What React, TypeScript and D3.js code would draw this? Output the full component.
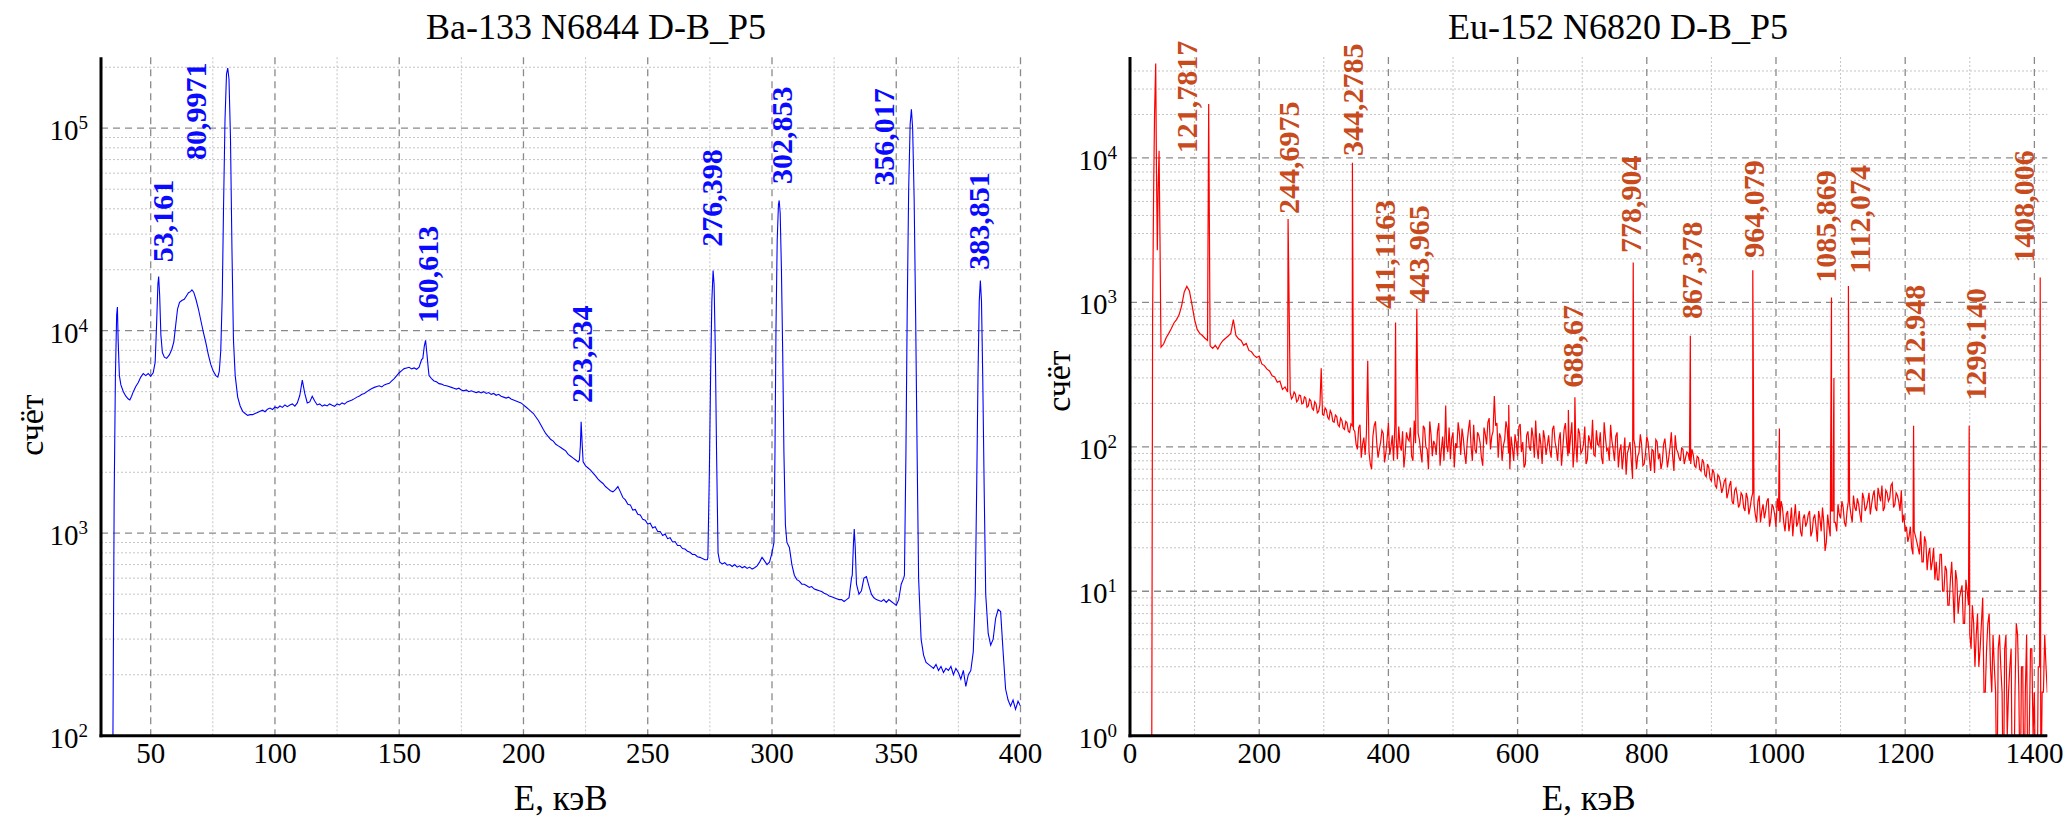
import React from 'react';
import * as d3 from 'd3';

type Pt = [number, number];

// ---------------- Ba-133 panel data ----------------
const baTitle = 'Ba-133 N6844 D-B_P5';
const baXDomain: Pt = [30, 400];
const baYDomain: Pt = [100, 224000];
const baXTicks = [50, 100, 150, 200, 250, 300, 350, 400];
const baXMinor = [75, 125, 175, 225, 275, 325, 375];

// low-energy part of the Ba spectrum (keV, counts)
const baLow: Pt[] = [
  [34.0, 40], [34.8, 100], [35.3, 1500], [35.8, 6000], [36.3, 12000], [36.6, 13100], [36.9, 9000], [37.4, 6000],
  [38.0, 5400], [39.0, 5000], [40.0, 4750], [41.0, 4600], [41.6, 4550], [42.3, 4750], [43.0, 5000], [44.0, 5300],
  [45.0, 5550], [46.0, 5900], [47.0, 6150], [48.0, 6000], [49.0, 6150], [50.0, 5950], [51.0, 6200], [51.8, 7000],
  [52.4, 11000], [52.9, 17000], [53.2, 18500], [53.6, 15000], [54.1, 9500], [54.7, 7800], [55.5, 7400], [56.4, 7300],
  [57.5, 7600], [58.5, 8100], [59.3, 8800], [60.0, 10500], [60.8, 12800], [61.6, 13800], [62.5, 14100], [63.5, 14300],
  [64.3, 14800], [65.2, 15400], [66.0, 15600], [66.6, 15900], [67.3, 15500], [68.2, 14300], [69.2, 12800], [70.2, 11200],
  [71.2, 9800], [72.2, 8700], [73.2, 7600], [74.2, 6800], [75.2, 6300], [76.2, 6000], [77.0, 5900], [77.6, 6300],
  [78.2, 8000], [78.8, 15000], [79.3, 40000], [79.9, 110000], [80.5, 185000], [81.0, 198000], [81.5, 175000],
  [82.1, 90000], [82.7, 25000], [83.3, 9000], [84.0, 6000], [85.0, 4700], [86.0, 4250], [87.0, 4000], [88.0, 3900],
  [89.0, 3820], [90.0, 3850],
];

// continuum, 1 keV channels from 91 keV
const baContStart = 91;
const baContStep = 1;
const baCont = [
  3850, 3900, 3950, 4000, 4050, 3980, 4100, 4150, 4080, 4200,
  4150, 4250, 4180, 4300, 4220, 4300, 4350, 4240, 4400, 4800,
  5700, 4900, 4400, 4450, 4750, 4500, 4300, 4350, 4240, 4300,
  4250, 4350, 4280, 4230, 4350, 4300, 4400, 4340, 4450, 4500,
  4550, 4620, 4700, 4760, 4850, 4900, 5000, 5100, 5180, 5250,
  5300, 5350, 5280, 5400, 5450, 5500, 5650, 5800, 6000, 6200,
  6350, 6500, 6550, 6600, 6480, 6550, 6450, 6600, 7200, 8400,
  7000, 6000, 5800, 5650, 5600, 5480, 5450, 5380, 5350, 5300,
  5250, 5200, 5150, 5200, 5100, 5050, 5100, 5000, 5050, 5000,
  4950, 5000, 4930, 5000, 4900, 4950, 4850, 4900, 4800, 4850,
  4750, 4700, 4650, 4700, 4600, 4550, 4500, 4450, 4400, 4300,
  4200, 4100, 4000, 3900, 3750, 3600, 3420, 3250, 3100, 3000,
  2900, 2850, 2750, 2700, 2650, 2600, 2550, 2450, 2400, 2350,
  2300, 2250, 2280, 2250, 2150, 2100, 2050, 1980, 1920, 1850,
  1800, 1760, 1700, 1660, 1620, 1600, 1640, 1700, 1600, 1500,
  1460, 1390, 1380, 1300, 1310, 1240, 1230, 1170, 1160, 1110,
  1120, 1060, 1075, 1020, 1020, 975, 990, 940, 950, 905,
  910, 870, 870, 840, 835, 815, 805, 785, 785, 765,
  760, 750, 740, 740, 750, 760, 750, 730, 720, 705,
  715, 695, 700, 685, 700, 680, 690, 675, 685, 670,
  680, 665, 675, 690, 720, 760, 730, 700, 720, 800,
  1000, 1200, 1200, 1100, 1000, 900, 850, 700, 620, 590,
  580, 560, 560, 550, 540, 545, 530, 525, 520, 515,
  505, 500, 490, 485, 480, 475, 470, 470, 460, 470,
  480, 600, 700, 560, 500, 520, 600, 610, 550, 500,
  480, 470, 465, 460, 470, 455, 470, 460, 450, 440,
  470, 560, 600, 900, 900, 900, 900, 900, 500, 300,
  250, 230, 225, 220, 215, 225, 210, 220, 205, 215,
  210, 220, 200, 215, 205, 190, 210, 175, 200, 210,
  260, 600, 600, 600, 600, 600, 320, 280, 300, 380,
  420, 410, 260, 170, 150, 140, 150, 135, 148, 140,
];

// resolved peak shapes (keV, counts)
const baPeaks: Pt[][] = [
  [[159.5, 7300], [160.1, 8400], [160.6, 8970], [161.1, 7800], [161.7, 6500]],
  [[222.5, 2300], [222.9, 2700], [223.2, 3550], [223.6, 2800], [224.0, 2250]],
  [[274.2, 760], [274.8, 2000], [275.3, 6000], [275.8, 14000], [276.3, 19800], [276.7, 17000], [277.2, 8000], [277.7, 2500], [278.3, 800]],
  [[300.8, 900], [301.2, 2500], [301.6, 10000], [302.1, 28000], [302.6, 42000], [302.9, 44000], [303.3, 38000], [303.8, 20000], [304.3, 8000], [304.8, 2500], [305.4, 1100]],
  [[332.3, 620], [332.8, 900], [333.1, 1050], [333.5, 850], [334.0, 560]],
  [[353.3, 620], [353.9, 2500], [354.4, 12000], [355.0, 50000], [355.6, 105000], [356.1, 124000], [356.6, 100000], [357.2, 45000], [357.8, 12000], [358.4, 2500], [359.0, 600]],
  [[381.8, 500], [382.4, 1800], [382.9, 6000], [383.4, 14000], [383.85, 17700], [384.3, 14000], [384.8, 6000], [385.4, 1600], [386.0, 500]],
];

const baLabelText = ['53,161', '80,9971', '160,613', '223,234', '276,398', '302,853', '356,017', '383,851'];
const baLabelE = [54.8, 68.2, 161.3, 223.5, 275.7, 303.9, 345.0, 383.1];
const baLabelCount = [21800, 69700, 10900, 4400, 26000, 53000, 52000, 20000];

// ---------------- Eu-152 panel data ----------------
const euTitle = 'Eu-152 N6820 D-B_P5';
const euXDomain: Pt = [0, 1420];
const euYDomain: Pt = [1, 50000];
const euXTicks = [0, 200, 400, 600, 800, 1000, 1200, 1400];
const euXMinor = [100, 300, 500, 700, 900, 1100, 1300];

const euLow: Pt[] = [
  [33.5, 0], [35.0, 800], [36.5, 5500], [38.0, 20000], [39.8, 45000], [41.0, 8000], [42.3, 2300],
  [43.5, 6000], [45.0, 11200], [46.5, 2500], [47.5, 800],
];

// continuum, 4 keV bins from 48 keV
const euContStart = 48;
const euContStep = 4;
const euCont = [
  490, 515, 570, 610, 660, 720, 760, 820, 950, 1180, 1290, 1200, 960, 760, 650, 610, 590, 565, 545, 500, 480, 505, 475, 515, 545,
  565, 585, 610, 600, 590, 560, 545, 505, 520, 465, 455, 430, 415, 425, 375, 365, 345, 335, 310, 305, 280, 285, 250, 260, 240,
  238, 222, 232, 210, 226, 200, 218, 192, 208, 180, 198, 176, 188, 165, 180, 155, 170, 148, 162, 138, 152, 132, 146, 126, 140,
  128, 96, 142, 104, 88, 132, 76, 118, 150, 84, 108, 124, 90, 146, 100, 80, 116, 138, 94, 72, 126, 110, 86, 152, 98,
  112, 78, 134, 96, 150, 86, 104, 128, 74, 118, 140, 92, 82, 126, 106, 148, 88, 114, 76, 132, 100, 142, 90, 120, 84,
  136, 104, 158, 118, 92, 146, 124, 80, 112, 134, 70, 98, 122, 86, 144, 108, 76, 128, 94, 116, 152, 82, 104, 130, 88,
  120, 84, 140, 96, 112, 74, 132, 106, 90, 148, 100, 78, 124, 94, 138, 82, 110, 154, 86, 104, 126, 76, 116, 98, 142,
  96, 118, 72, 104, 88, 64, 98, 80, 112, 70, 92, 104, 76, 118, 84, 96, 66, 108, 90, 78, 114, 72, 100, 86, 120,
  92, 80, 96, 84, 90, 76, 88, 72, 84, 68, 78, 62, 72, 58, 66, 52, 62, 48, 58, 44, 54, 42, 50, 46, 40,
  46, 36, 44, 38, 48, 34, 42, 30, 40, 36, 44, 32, 38, 28, 36, 42, 30, 34, 26, 38, 32, 28, 36, 24, 34,
  30, 36, 26, 34, 22, 32, 38, 19, 34, 24, 36, 30, 40, 32, 38, 28, 42, 34, 46, 36, 40, 30, 44, 38, 48,
  40, 50, 36, 46, 54, 38, 48, 44, 56, 40, 46, 36, 30, 26, 22, 28, 18, 24, 20, 26, 16, 22, 18, 14, 20,
  16, 12, 18, 10, 14, 8, 16, 6, 12, 9, 11, 6, 10, 5, 8, 3, 7, 4, 9, 2, 6, 3, 5, 2, 4,
  3, 0, 5, 2, 4, 0, 6, 2, 3, 0, 5, 1, 4, 2, 0, 3, 2, 5, 2,
];

// interleaved continuum bins (4 keV apart, starting at 250 keV)
const euCont2Start = 250;
const euCont2Step = 4;
const euCont2 = [
  215, 240, 205, 228, 198, 222, 188, 214, 185, 205, 172, 196, 168, 186, 160, 178, 150, 166, 142, 158, 135, 150, 128, 144, 132,
  104, 136, 84, 116, 124, 92, 70, 140, 106, 96, 130, 78, 112, 88, 120, 144, 82, 102, 128, 90, 114, 136, 80, 106, 124,
  92, 140, 100, 70, 122, 110, 88, 146, 96, 80, 104, 136, 114, 72, 98, 124, 134, 90, 108, 154, 80, 96, 126, 106, 74,
  122, 148, 96, 128, 140, 84, 116, 102, 150, 90, 118, 80, 106, 138, 92, 72, 120, 100, 136, 84, 98, 124, 76, 114, 102,
  94, 132, 108, 80, 126, 98, 146, 86, 118, 72, 112, 134, 90, 104, 76, 120, 96, 88, 130, 102, 84, 148, 94, 80, 110,
  80, 126, 94, 70, 116, 90, 108, 60, 100, 86, 122, 74, 90, 108, 68, 94, 112, 82, 70, 104, 92, 84, 126, 68, 96,
  84, 98, 76, 92, 80, 96, 74, 86, 70, 82, 64, 76, 60, 70, 54, 64, 56, 52, 60, 48, 58, 40, 52, 38, 48,
  38, 48, 34, 44, 40, 30, 46, 36, 32, 42, 28, 40, 34, 44, 30, 38, 26, 36, 30, 24, 40, 30, 26, 32, 28,
  34, 24, 32, 28, 36, 26, 30, 22, 28, 36, 30, 26, 34, 42, 30, 36, 40, 30, 38, 44, 34, 48, 36, 42, 34,
  46, 38, 52, 42, 36, 50, 42, 54, 38, 48, 42, 50, 34, 28, 24, 20, 26, 22, 18, 16, 24, 14, 20, 16, 12,
  12, 18, 10, 15, 8, 12, 10, 14, 7, 10, 6, 12, 8, 4, 6, 5, 3, 6, 2, 4, 7, 2, 3, 0, 5,
  2, 4, 1, 3, 0, 2, 5, 0, 3, 2, 0, 4, 1, 0, 3, 0, 2, 3,
];

// narrow lines (keV, counts)
const euPeaks: Pt[][] = [
  [[121.8, 23600]], [[160, 760]], [[244.7, 3780]], [[296, 350]], [[344.3, 9270]], [[368, 395]],
  [[411.1, 726]], [[444, 902]], [[488.7, 193]], [[564, 225]], [[586.3, 195]], [[678.6, 180]],
  [[688.7, 220]], [[779, 1890]], [[867.4, 588]], [[964.1, 1670]], [[1005.3, 134]], [[1085.9, 1080]],
  [[1089.7, 300]], [[1112.1, 1300]], [[1213, 140]], [[1299.1, 140]], [[1409, 1490]],
];

const euLabelText = ['121,7817', '244,6975', '344,2785', '411,1163', '443,965', '688,67', '778,904', '867,378',
  '964,079', '1085,869', '1112,074', '1212.948', '1299.140', '1408,006'];
const euLabelE = [86.8, 245.5, 343.9, 393.5, 446, 684.8, 774.6, 869.9, 965.2, 1076.8, 1129, 1213.9, 1309, 1383.6];
const euLabelCount = [10800, 4100, 10300, 900, 993, 257, 2200, 768, 2040, 1370, 1570, 220, 209, 1880];

const xAxisLabel = 'E, кэВ';
const yAxisLabel = 'счёт';

interface Cont { start: number; step: number; values: number[] }

function buildSeries(low: Pt[], conts: Cont[], peaks: Pt[][]): Pt[] {
  const ranges = peaks.map((g) => [g[0][0], g[g.length - 1][0]]);
  const lowMax = low[low.length - 1][0];
  const contPts: Pt[] = conts
    .flatMap((c) => c.values.map((v, i) => [c.start + i * c.step, v] as Pt))
    .filter((p) => p[0] > lowMax && !ranges.some((r) => p[0] >= r[0] && p[0] <= r[1]));
  const all: Pt[] = [...low, ...contPts, ...peaks.flat()];
  all.sort((a, b) => a[0] - b[0]);
  return all;
}

const FONT = "'Liberation Serif', 'Times New Roman', serif";

interface PanelProps {
  id: string;
  x0: number; x1: number; y0: number; y1: number;
  xDomain: Pt; yDomain: Pt;
  xTicks: number[]; xMinor: number[];
  data: Pt[]; color: string; lineWidth: number;
  labelText: string[]; labelE: number[]; labelCount: number[]; labelColor: string;
  title: string; titleX: number;
  yLabelX: number; yLabelY: number;
}

function Panel(p: PanelProps) {
  const xs = d3.scaleLinear().domain(p.xDomain).range([p.x0, p.x1]);
  const ys = d3.scaleLog().domain(p.yDomain).range([p.y1, p.y0]);
  const floorV = p.yDomain[0] * 0.3;
  const line = d3
    .line<Pt>()
    .x((d) => xs(d[0]))
    .y((d) => ys(Math.max(d[1], floorV)));

  const lo = Math.round(Math.log10(p.yDomain[0]));
  const hi = Math.log10(p.yDomain[1]);
  const decades: number[] = [];
  for (let e = lo; e <= hi; e++) decades.push(e);
  const minor: number[] = [];
  for (let e = lo; e <= hi; e++) {
    for (let m = 2; m <= 9; m++) {
      const v = m * Math.pow(10, e);
      if (v < p.yDomain[1]) minor.push(v);
    }
  }
  const cx = (p.x0 + p.x1) / 2;

  return (
    <g>
      <defs>
        <clipPath id={`clip-${p.id}`}>
          <rect x={p.x0} y={p.y0} width={p.x1 - p.x0} height={p.y1 - p.y0} />
        </clipPath>
      </defs>
      {minor.map((v, i) => (
        <line key={`hm${i}`} x1={p.x0} x2={p.x1} y1={ys(v)} y2={ys(v)} stroke="#c4c4c4" strokeWidth={1} strokeDasharray="2,2" />
      ))}
      {p.xMinor.map((v, i) => (
        <line key={`vm${i}`} x1={xs(v)} x2={xs(v)} y1={p.y0} y2={p.y1} stroke="#c4c4c4" strokeWidth={1} strokeDasharray="2,2" />
      ))}
      {decades.map((e, i) => (
        <line key={`hM${i}`} x1={p.x0} x2={p.x1} y1={ys(Math.pow(10, e))} y2={ys(Math.pow(10, e))} stroke="#8a8a8a" strokeWidth={1.3} strokeDasharray="7,5" />
      ))}
      {p.xTicks.map((v, i) => (
        <line key={`vM${i}`} x1={xs(v)} x2={xs(v)} y1={p.y0} y2={p.y1} stroke="#8a8a8a" strokeWidth={1.3} strokeDasharray="7,5" />
      ))}
      <path d={line(p.data) || ''} fill="none" stroke={p.color} strokeWidth={p.lineWidth} clipPath={`url(#clip-${p.id})`} />
      <line x1={p.x0} x2={p.x0} y1={p.y0} y2={p.y1 + 1.5} stroke="#000" strokeWidth={3} />
      <line x1={p.x0 - 1.5} x2={p.x1} y1={p.y1} y2={p.y1} stroke="#000" strokeWidth={3} />
      {p.xTicks.map((v, i) => (
        <text key={`xt${i}`} x={xs(v)} y={p.y1 + 27} textAnchor="middle" fontSize={29} fontFamily={FONT} fill="#000">{v}</text>
      ))}
      {decades.map((e, i) => (
        <text key={`yt${i}`} x={p.x0 - 13} y={ys(Math.pow(10, e)) + 12} textAnchor="end" fontSize={29} fontFamily={FONT} fill="#000">
          10<tspan dy={-11} fontSize={19}>{e}</tspan>
        </text>
      ))}
      {p.labelText.map((t, i) => (
        <text key={`pl${i}`} transform={`translate(${xs(p.labelE[i])},${ys(p.labelCount[i])}) rotate(-90)`} dy="0.35em"
          fontSize={30} fontWeight="bold" fontFamily={FONT} fill={p.labelColor}>{t}</text>
      ))}
      <text x={p.titleX} y={39} textAnchor="middle" fontSize={36} fontFamily={FONT} fill="#000">{p.title}</text>
      <text x={cx} y={810} textAnchor="middle" fontSize={35} fontFamily={FONT} fill="#000">{xAxisLabel}</text>
      <text transform={`translate(${p.yLabelX},${p.yLabelY}) rotate(-90)`} textAnchor="middle" fontSize={34} fontFamily={FONT} fill="#000">{yAxisLabel}</text>
    </g>
  );
}

export default function App() {
  const baData = buildSeries(baLow, [{ start: baContStart, step: baContStep, values: baCont }], baPeaks);
  const euData = buildSeries(
    euLow,
    [
      { start: euContStart, step: euContStep, values: euCont },
      { start: euCont2Start, step: euCont2Step, values: euCont2 },
    ],
    euPeaks,
  );
  return (
    <svg width={2071} height={818} style={{ position: 'absolute', left: 0, top: 0, background: '#fff' }}>
      <rect x={0} y={0} width={2071} height={818} fill="#fff" />
      <Panel id="ba" x0={101} x1={1020.5} y0={57.3} y1={735.7} xDomain={baXDomain} yDomain={baYDomain}
        xTicks={baXTicks} xMinor={baXMinor} data={baData} color="#0000ff" lineWidth={1.1}
        labelText={baLabelText} labelE={baLabelE} labelCount={baLabelCount} labelColor="#0a0aff"
        title={baTitle} titleX={596} yLabelX={43} yLabelY={425} />
      <Panel id="eu" x0={1130} x1={2047.3} y0={57} y1={735.7} xDomain={euXDomain} yDomain={euYDomain}
        xTicks={euXTicks} xMinor={euXMinor} data={euData} color="#ff0000" lineWidth={1.2}
        labelText={euLabelText} labelE={euLabelE} labelCount={euLabelCount} labelColor="#c84b1e"
        title={euTitle} titleX={1618} yLabelX={1070} yLabelY={381} />
    </svg>
  );
}
